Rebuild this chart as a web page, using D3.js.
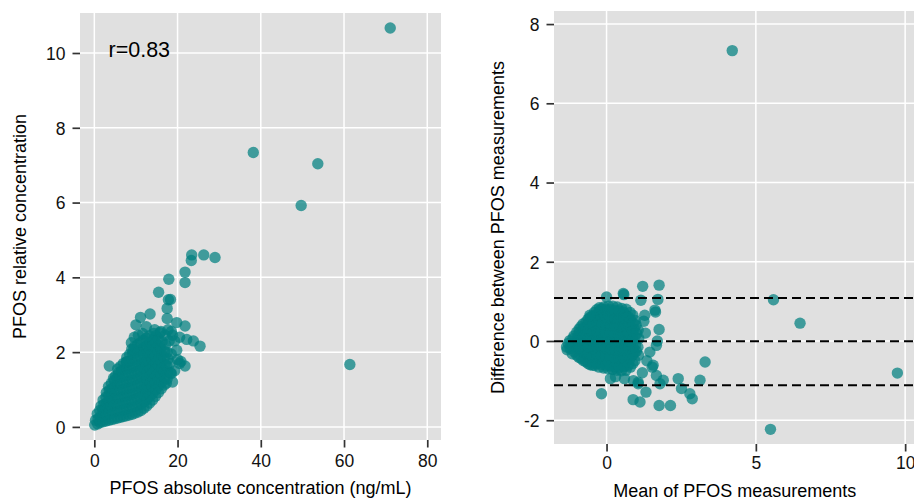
<!DOCTYPE html>
<html>
<head>
<meta charset="utf-8">
<script src="https://cdn.jsdelivr.net/npm/d3@7/dist/d3.min.js"></script>
<style>
html,body{margin:0;padding:0;background:#fff;}
svg{display:block;font-family:"Liberation Sans",Arial,Helvetica,sans-serif;}
</style>
</head>
<body>
<svg id="chart" width="914" height="500"></svg>
<script>
// ---------- DATA ----------
// Left panel: PFOS absolute (ng/mL) vs relative concentration
const scatterPoints = [
  [0.1,0.05],[0.3,0.18],
  [0.8,0.08],[0.9,0.22],[0.7,0.35],
  [1.4,0.12],[1.5,0.28],[1.3,0.44],[1.6,0.56],
  [2.1,0.14],[2.2,0.3],[2.0,0.46],[2.3,0.6],[2.1,0.72],
  [2.8,0.16],[2.9,0.33],[2.7,0.5],[3.0,0.65],[2.8,0.8],[2.9,0.92],
  [3.5,0.18],[3.6,0.35],[3.4,0.52],[3.7,0.68],[3.5,0.84],[3.6,0.98],[3.4,1.08],
  [4.2,0.2],[4.3,0.38],[4.1,0.55],[4.4,0.72],[4.2,0.88],[4.3,1.03],[4.1,1.17],
  [4.9,0.22],[5.0,0.4],[4.8,0.58],[5.1,0.76],[4.9,0.94],[5.0,1.1],[4.8,1.25],[5.1,1.36],
  [5.6,0.24],[5.7,0.42],[5.5,0.6],[5.8,0.78],[5.6,0.96],[5.7,1.13],[5.5,1.3],[5.8,1.45],
  [6.3,0.26],[6.4,0.44],[6.2,0.62],[6.5,0.8],[6.3,0.98],[6.4,1.16],[6.2,1.33],[6.5,1.5],[6.3,1.62],
  [7.0,0.28],[7.1,0.46],[6.9,0.64],[7.2,0.82],[7.0,1.0],[7.1,1.18],[6.9,1.36],[7.2,1.54],[7.0,1.7],
  [7.7,0.3],[7.8,0.48],[7.6,0.66],[7.9,0.84],[7.7,1.02],[7.8,1.2],[7.6,1.38],[7.9,1.56],[7.7,1.74],[7.8,1.86],
  [8.4,0.32],[8.5,0.5],[8.3,0.68],[8.6,0.86],[8.4,1.04],[8.5,1.22],[8.3,1.4],[8.6,1.58],[8.4,1.76],[8.5,1.94],
  [9.1,0.34],[9.2,0.52],[9.0,0.7],[9.3,0.88],[9.1,1.06],[9.2,1.24],[9.0,1.42],[9.3,1.6],[9.1,1.78],[9.2,1.96],[9.0,2.08],
  [9.8,0.37],[9.9,0.55],[9.7,0.73],[10.0,0.91],[9.8,1.09],[9.9,1.27],[9.7,1.45],[10.0,1.63],[9.8,1.81],[9.9,1.99],[9.7,2.15],
  [10.5,0.4],[10.6,0.58],[10.4,0.76],[10.7,0.94],[10.5,1.12],[10.6,1.3],[10.4,1.48],[10.7,1.66],[10.5,1.84],[10.6,2.02],[10.4,2.2],
  [11.2,0.44],[11.3,0.62],[11.1,0.8],[11.4,0.98],[11.2,1.16],[11.3,1.34],[11.1,1.52],[11.4,1.7],[11.2,1.88],[11.3,2.06],[11.1,2.26],
  [11.9,0.5],[12.0,0.68],[11.8,0.86],[12.1,1.04],[11.9,1.22],[12.0,1.4],[11.8,1.58],[12.1,1.76],[11.9,1.94],[12.0,2.12],[11.8,2.32],
  [12.6,0.56],[12.7,0.74],[12.5,0.92],[12.8,1.1],[12.6,1.28],[12.7,1.46],[12.5,1.64],[12.8,1.82],[12.6,2.0],[12.7,2.18],[12.5,2.38],
  [13.3,0.64],[13.4,0.82],[13.2,1.0],[13.5,1.18],[13.3,1.36],[13.4,1.54],[13.2,1.72],[13.5,1.9],[13.3,2.08],[13.4,2.26],[13.2,2.44],
  [14.0,0.72],[14.1,0.9],[13.9,1.08],[14.2,1.26],[14.0,1.44],[14.1,1.62],[13.9,1.8],[14.2,1.98],[14.0,2.16],[14.1,2.34],[14.3,2.5],
  [14.7,0.82],[14.8,1.0],[14.6,1.18],[14.9,1.36],[14.7,1.54],[14.8,1.72],[14.6,1.9],[14.9,2.08],[14.7,2.26],[14.8,2.44],
  [15.4,0.92],[15.5,1.1],[15.3,1.28],[15.6,1.46],[15.4,1.64],[15.5,1.82],[15.3,2.0],[15.6,2.18],[15.4,2.36],[15.8,2.52],
  [16.1,1.02],[16.2,1.2],[16.0,1.38],[16.3,1.56],[16.1,1.74],[16.2,1.92],[16.0,2.1],[16.3,2.28],
  [16.8,1.12],[16.9,1.3],[16.7,1.48],[17.0,1.66],[16.8,1.84],[16.9,2.02],[17.1,2.2],
  [17.5,1.28],[17.6,1.46],[17.4,1.64],[17.7,1.82],[17.5,2.0],
  [18.3,1.45],[18.2,1.7],[18.5,1.95],[18.0,2.3],[18.8,2.45],
  [19.3,1.5],[20.0,1.8],[18.8,1.2],[20.5,1.7],[19.3,2.3],[20.5,2.4],
  [14.5,2.6],[16.0,2.55],[17.0,2.45],[18.5,2.55],[17.7,2.6],
  [4.6,1.3],[5.6,1.55],[8.9,2.25],[9.6,2.4],[10.6,2.45],[11.6,2.5],
  [3.6,1.63],[7.8,1.74],[9.4,2.06],[17.3,1.17],[18.5,1.43],[21.8,1.63],[20.8,1.75],
  [19.8,2.05],[22.2,2.34],[23.8,2.3],[25.4,2.16],
  [19.8,2.79],[21.8,2.7],[12.5,2.68],[10.0,2.73],[11.1,2.93],[13.4,3.02],
  [17.5,2.9],[17.5,3.17],[17.8,3.4],[18.3,3.41],[15.45,3.6],[17.9,3.95],
  [21.8,3.86],[21.8,4.14],[23.3,4.45],[23.4,4.6],[26.3,4.6],[29.0,4.53],
  [38.2,7.34],[53.7,7.04],[49.7,5.92],[61.4,1.67],[71.1,10.67]
];
const leftXTicks = [0, 20, 40, 60, 80];
const leftYTicks = [0, 2, 4, 6, 8, 10];
const correlationLabel = "r=0.83";

// Right panel: Bland-Altman (mean vs difference)
const blandAltmanPoints = [
  [-1.32,-0.22],[-1.28,-0.06],
  [-1.15,-0.32],[-1.17,-0.12],[-1.13,0.06],
  [-1.0,-0.36],[-1.02,-0.16],[-0.98,0.04],[-1.0,0.22],
  [-0.85,-0.44],[-0.87,-0.24],[-0.83,-0.04],[-0.85,0.16],[-0.86,0.36],
  [-0.7,-0.52],[-0.72,-0.32],[-0.68,-0.12],[-0.7,0.08],[-0.72,0.28],[-0.69,0.48],
  [-0.55,-0.6],[-0.57,-0.4],[-0.53,-0.2],[-0.55,0.0],[-0.57,0.2],[-0.53,0.4],[-0.55,0.6],
  [-0.4,-0.62],[-0.42,-0.42],[-0.38,-0.22],[-0.4,-0.02],[-0.42,0.18],[-0.38,0.38],[-0.4,0.58],[-0.41,0.72],
  [-0.25,-0.66],[-0.27,-0.46],[-0.23,-0.26],[-0.25,-0.06],[-0.27,0.14],[-0.23,0.34],[-0.25,0.54],[-0.26,0.74],[-0.24,0.84],
  [-0.1,-0.68],[-0.12,-0.48],[-0.08,-0.28],[-0.1,-0.08],[-0.12,0.12],[-0.08,0.32],[-0.1,0.52],[-0.12,0.72],[-0.09,0.86],
  [0.05,-0.7],[0.03,-0.5],[0.07,-0.3],[0.05,-0.1],[0.03,0.1],[0.07,0.3],[0.05,0.5],[0.03,0.7],[0.06,0.88],
  [0.2,-0.72],[0.18,-0.52],[0.22,-0.32],[0.2,-0.12],[0.18,0.08],[0.22,0.28],[0.2,0.48],[0.18,0.68],[0.21,0.88],
  [0.35,-0.74],[0.33,-0.54],[0.37,-0.34],[0.35,-0.14],[0.33,0.06],[0.37,0.26],[0.35,0.46],[0.33,0.66],[0.36,0.86],
  [0.5,-0.75],[0.48,-0.55],[0.52,-0.35],[0.5,-0.15],[0.48,0.05],[0.52,0.25],[0.5,0.45],[0.48,0.65],[0.51,0.82],
  [0.65,-0.74],[0.63,-0.54],[0.67,-0.34],[0.65,-0.14],[0.63,0.06],[0.67,0.26],[0.65,0.46],[0.64,0.66],[0.66,0.8],
  [0.8,-0.66],[0.78,-0.46],[0.82,-0.26],[0.8,-0.06],[0.78,0.14],[0.82,0.34],[0.8,0.54],[0.79,0.72],
  [0.95,-0.5],[0.93,-0.3],[0.97,-0.1],[0.95,0.1],[0.93,0.3],[0.96,0.52],
  [1.07,-0.36],[1.05,-0.16],[1.08,0.06],[1.06,0.28],
  [-1.22,-0.19],[-1.23,0.01],
  [-1.08,-0.27],[-1.07,-0.05],[-1.09,0.13],
  [-0.93,-0.41],[-0.92,-0.19],[-0.94,0.01],[-0.93,0.19],[-0.92,0.3],
  [-0.78,-0.49],[-0.77,-0.27],[-0.79,-0.07],[-0.78,0.13],[-0.77,0.33],[-0.79,0.43],
  [-0.62,-0.57],[-0.63,-0.35],[-0.61,-0.15],[-0.62,0.05],[-0.63,0.25],[-0.61,0.45],[-0.62,0.55],
  [-0.47,-0.61],[-0.48,-0.39],[-0.46,-0.19],[-0.47,0.01],[-0.48,0.21],[-0.46,0.41],[-0.47,0.63],
  [-0.32,-0.57],[-0.33,-0.35],[-0.31,-0.15],[-0.32,0.05],[-0.33,0.25],[-0.31,0.45],[-0.32,0.65],[-0.33,0.79],
  [-0.17,-0.59],[-0.18,-0.37],[-0.16,-0.17],[-0.17,0.03],[-0.18,0.23],[-0.16,0.43],[-0.17,0.63],[-0.18,0.81],
  [-0.02,-0.61],[-0.03,-0.39],[-0.01,-0.19],[-0.02,0.01],[-0.03,0.21],[-0.01,0.41],[-0.02,0.61],[-0.03,0.79],
  [0.13,-0.63],[0.12,-0.41],[0.14,-0.21],[0.13,-0.01],[0.12,0.19],[0.14,0.39],[0.13,0.59],[0.12,0.79],
  [0.28,-0.65],[0.27,-0.43],[0.29,-0.23],[0.28,-0.03],[0.27,0.17],[0.29,0.37],[0.28,0.57],[0.27,0.77],
  [0.43,-0.66],[0.42,-0.44],[0.44,-0.24],[0.43,-0.04],[0.42,0.16],[0.44,0.36],[0.43,0.56],[0.42,0.76],
  [0.58,-0.65],[0.57,-0.43],[0.59,-0.23],[0.58,-0.03],[0.57,0.17],[0.59,0.37],[0.58,0.57],[0.57,0.73],
  [0.73,-0.61],[0.72,-0.39],[0.74,-0.19],[0.73,0.01],[0.72,0.21],[0.74,0.41],[0.73,0.61],
  [0.88,-0.57],[0.87,-0.35],[0.89,-0.15],[0.88,0.05],[0.87,0.25],[0.89,0.45],[0.88,0.65],
  [1.0,-0.26],[1.01,0.19],[0.99,0.4],
  [0.56,1.2],[-0.56,0.65],[0.0,1.11],[0.58,1.17],[1.15,1.03],[1.21,1.38],[1.76,1.41],[1.72,1.05],
  [1.62,0.78],[1.64,0.73],[1.28,0.65],[1.76,0.29],[1.3,0.2],[1.25,0.5],
  [1.7,0.0],[1.67,-0.11],[1.45,-0.28],[1.35,-0.5],[1.56,-0.61],[1.53,-0.66],[1.67,-0.87],
  [1.9,-0.99],[1.79,-1.08],[1.2,-0.8],[1.06,-1.04],[1.06,-1.08],[0.9,-1.0],[0.6,-0.95],[0.3,-0.9],
  [0.13,-0.95],[-0.17,-1.33],[-1.34,-0.15],
  [1.32,-1.29],[1.12,-1.54],[0.89,-1.48],[1.76,-1.63],[2.14,-1.63],
  [2.4,-0.95],[2.51,-1.2],[2.79,-1.33],[2.87,-1.46],[3.13,-0.99],[3.3,-0.53],
  [4.21,7.33],[5.59,1.04],[6.48,0.45],[9.74,-0.81],[5.49,-2.23]
];
const rightXTicks = [0, 5, 10];
const rightYTicks = [-2, 0, 2, 4, 6, 8];
const meanDifference = -0.008;
const upperLimit = 1.087;
const lowerLimit = -1.12;

const leftXTitle = "PFOS absolute concentration (ng/mL)";
const leftYTitle = "PFOS relative concentration";
const rightXTitle = "Mean of PFOS measurements";
const rightYTitle = "Difference between PFOS measurements";

// ---------- DRAW ----------
const svg = d3.select("#chart");
const PANEL_BG = "#e0e0e0";
const POINT = "#008080";
const TICK_LEN = 7.5;
const FONT = "'Liberation Sans', Arial, sans-serif";

function drawPanel(cfg) {
  const {x, y, xTicks, yTicks, points, xTitle, yTitle, xTitleY, yTitleX, xLabelY} = cfg;
  const [x0, x1] = x.range();
  const [y0, y1] = y.range(); // y0 bottom, y1 top
  const g = svg.append("g");

  g.append("rect")
    .attr("x", x0).attr("y", y1)
    .attr("width", x1 - x0).attr("height", y0 - y1)
    .attr("fill", PANEL_BG);

  // grid
  g.append("g").selectAll("line").data(xTicks).join("line")
    .attr("x1", d => x(d)).attr("x2", d => x(d))
    .attr("y1", y1).attr("y2", y0)
    .attr("stroke", "#fff").attr("stroke-width", 1.5);
  g.append("g").selectAll("line").data(yTicks).join("line")
    .attr("y1", d => y(d)).attr("y2", d => y(d))
    .attr("x1", x0).attr("x2", x1)
    .attr("stroke", "#fff").attr("stroke-width", 1.5);

  // points
  g.append("g").selectAll("circle").data(points).join("circle")
    .attr("cx", d => x(d[0])).attr("cy", d => y(d[1]))
    .attr("r", 5.7)
    .attr("fill", POINT).attr("fill-opacity", 0.72);

  // axes (ticks only, no domain line)
  const fmt = d => String(d);
  const xAxis = d3.axisBottom(x).tickValues(xTicks).tickSize(TICK_LEN).tickPadding(0).tickFormat(fmt);
  const gx = g.append("g").attr("transform", `translate(0,${y0})`).call(xAxis);
  gx.select(".domain").remove();
  gx.selectAll(".tick line").attr("stroke", "#333").attr("stroke-width", 1.7);
  gx.selectAll(".tick text")
    .attr("y", xLabelY - y0).attr("dy", null)
    .attr("fill", "#111").attr("font-size", 17.5)
    .attr("font-family", FONT);

  const yAxis = d3.axisLeft(y).tickValues(yTicks).tickSize(TICK_LEN).tickPadding(7).tickFormat(fmt);
  const gy = g.append("g").attr("transform", `translate(${x0},0)`).call(yAxis);
  gy.select(".domain").remove();
  gy.selectAll(".tick line").attr("stroke", "#333").attr("stroke-width", 1.7);
  gy.selectAll(".tick text")
    .attr("dy", "0.36em")
    .attr("fill", "#111").attr("font-size", 17.5)
    .attr("font-family", FONT);

  // titles
  g.append("text")
    .attr("x", (x0 + x1) / 2).attr("y", xTitleY)
    .attr("text-anchor", "middle")
    .attr("font-size", 18).attr("fill", "#000")
    .text(xTitle);
  g.append("text")
    .attr("transform", `translate(${yTitleX},${(y0 + y1) / 2}) rotate(-90)`)
    .attr("text-anchor", "middle")
    .attr("font-size", 18).attr("fill", "#000")
    .text(yTitle);
  return g;
}

// Left panel scales
const xLeft = d3.scaleLinear().domain([-3.44, 83.3]).range([80, 441]);
const yLeft = d3.scaleLinear().domain([-0.35, 11.07]).range([440, 13]);
const gLeft = drawPanel({
  x: xLeft, y: yLeft, xTicks: leftXTicks, yTicks: leftYTicks,
  points: scatterPoints, xTitle: leftXTitle, yTitle: leftYTitle,
  xTitleY: 494.3, yTitleX: 26, xLabelY: 466.7
});
gLeft.append("text")
  .attr("x", 108.5).attr("y", 57.3)
  .attr("font-size", 21.5).attr("fill", "#000")
  .text(correlationLabel);

// Right panel scales
const xRight = d3.scaleLinear().domain([-1.76, 10.35]).range([554, 915.6]);
const yRight = d3.scaleLinear().domain([-2.6, 8.33]).range([444, 11]);
const gRight = drawPanel({
  x: xRight, y: yRight, xTicks: rightXTicks, yTicks: rightYTicks,
  points: blandAltmanPoints, xTitle: rightXTitle, yTitle: rightYTitle,
  xTitleY: 496.7, yTitleX: 504, xLabelY: 469.3
});
gRight.append("g").selectAll("line")
  .data([upperLimit, meanDifference, lowerLimit]).join("line")
  .attr("x1", xRight.range()[0]).attr("x2", xRight.range()[1])
  .attr("y1", d => yRight(d)).attr("y2", d => yRight(d))
  .attr("stroke", "#000").attr("stroke-width", 2)
  .attr("stroke-dasharray", "9,5");
</script>
</body>
</html>
